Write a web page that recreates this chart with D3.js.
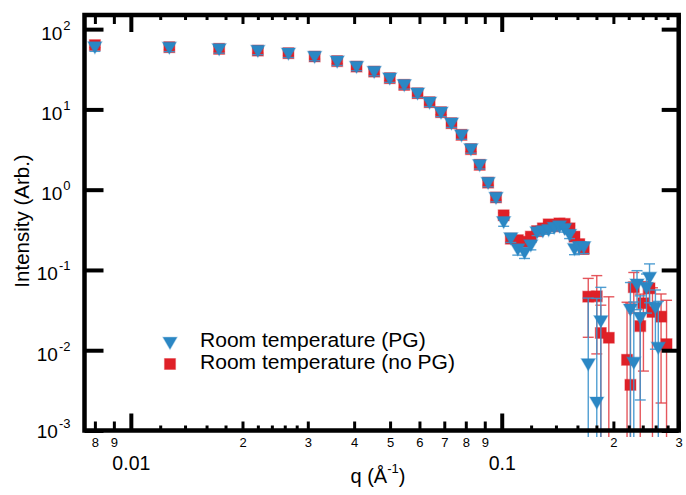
<!DOCTYPE html>
<html>
<head>
<meta charset="utf-8">
<script src="https://cdn.jsdelivr.net/npm/d3@7"></script>
<style>
  html, body { margin: 0; padding: 0; background: #fff; }
  svg { display: block; font-family: "Liberation Sans", Arial, Helvetica, sans-serif; }
</style>
</head>
<body>
<svg id="chart" width="686" height="495"></svg>
<script>
// Scattering vector q (1/Å), shared by both series
const q = [0.0080, 0.0127, 0.0173, 0.0220, 0.0266, 0.0313, 0.0360, 0.0406, 0.0453, 0.0499,
           0.0546, 0.0593, 0.0639, 0.0686, 0.0732, 0.0779, 0.0826, 0.0872, 0.0919, 0.0965,
           0.1012, 0.1058, 0.1105, 0.1152, 0.1198, 0.1245, 0.1291, 0.1338, 0.1385, 0.1431,
           0.1478, 0.1524, 0.1571, 0.1618, 0.1664, 0.1711, 0.1757, 0.1804, 0.1850, 0.1897,
           0.1944, 0.1990, 0.2037, 0.2083, 0.2130, 0.2177, 0.2223, 0.2270, 0.2316, 0.2363,
           0.2410, 0.2456, 0.2503, 0.2549, 0.2596, 0.2643, 0.2689, 0.2736, 0.2782];

// Room temperature, no PG (null = not positive, not shown on log axis)
const iNoPG = [63.2, 59.6, 56.8, 54.1, 50.2, 45.6, 40.0, 34.2, 29.6, 24.5,
               20.2, 15.9, 12.3, 9.24, 6.74, 4.82, 3.20, 2.04, 1.225, 0.80,
               0.48, 0.245, 0.235, 0.225, 0.26, 0.305, 0.33, 0.37, 0.35, 0.38,
               0.375, 0.33, 0.26, 0.21, 0.185,
               0.0465, null, 0.047, 0.0164, null, 0.0143, null, null, null, null,
               0.0076, 0.0037, 0.061, null, 0.020, 0.0385, null, 0.059, 0.030, null,
               null, 0.0262, null, 0.0119];
const eNoPG = [4.4, 4.2, 4.0, 3.8, 3.5, 3.2, 2.8, 2.4, 2.1, 1.7,
               1.4, 1.1, 0.86, 0.65, 0.47, 0.34, 0.22, 0.14, 0.086, 0.056,
               0.035, 0.022, 0.022, 0.022, 0.022, 0.025, 0.025, 0.028, 0.028, 0.028,
               0.028, 0.025, 0.025, 0.025, 0.028,
               0.032, null, 0.038, 0.020, null, 0.032, null, null, null, null,
               0.032, 0.035, 0.032, null, 0.030, 0.033, null, 0.030, 0.030, null,
               null, 0.024, null, 0.030];

// Room temperature, PG
const iPG = [58.5, 58.0, 55.5, 53.0, 49.0, 44.5, 39.0, 33.5, 29.0, 24.0,
             19.8, 15.6, 12.0, 9.0, 6.6, 4.7, 3.15, 2.0, 1.2, 0.78,
             0.39, 0.245, 0.178, 0.162, 0.20, 0.29, 0.30, 0.31, 0.33, 0.345,
             0.32, 0.27, 0.18, 0.19, 0.19,
             0.0066, null, 0.0022, 0.0227, null, null, null, null, null, null,
             null, 0.0317, 0.0069, 0.065, 0.025, null, 0.059, 0.079, null, 0.0333,
             0.0106, null, null, null];
const ePG = [5.6, 5.5, 5.3, 5.0, 4.7, 4.2, 3.7, 3.2, 2.8, 2.3,
             1.9, 1.5, 1.15, 0.86, 0.63, 0.45, 0.30, 0.19, 0.115, 0.075,
             0.04, 0.025, 0.025, 0.023, 0.022, 0.022, 0.022, 0.024, 0.024, 0.024,
             0.024, 0.024, 0.025, 0.03, 0.03,
             0.038, null, 0.042, 0.038, null, null, null, null, null, null,
             null, 0.038, 0.033, 0.033, 0.0226, null, 0.03, 0.04, null, 0.023,
             0.03, null, null, null];

// Axis ticks
const xMajorTicks = [0.01, 0.1];
const xMajorLabels = ["0.01", "0.1"];
const xMinorTicks = [0.008, 0.009, 0.02, 0.03, 0.04, 0.05, 0.06, 0.07, 0.08, 0.09, 0.2, 0.3];
const xMinorLabels = ["8", "9", "2", "3", "4", "5", "6", "7", "8", "9", "2", "3"];
const xSmallTicks = [0.012, 0.014, 0.016, 0.018, 0.022, 0.024, 0.026, 0.028,
                     0.12, 0.14, 0.16, 0.18, 0.22, 0.24, 0.26, 0.28];
const yTicks = [1e-3, 1e-2, 1e-1, 1e0, 1e1, 1e2];
const yExponents = ["-3", "-2", "-1", "0", "1", "2"];

const series = [
  { name: "Room temperature (no PG)", values: iNoPG, errors: eNoPG, color: "#df2027", bar: "#e2454b", shape: "square" },
  { name: "Room temperature (PG)", values: iPG, errors: ePG, color: "#2b87c4", bar: "#3d94cd", shape: "triangle" }
];

const frame = { left: 84.5, right: 678.7, top: 15, bottom: 430.5 };
const barFloor = 437;

const x = d3.scaleLog().domain([0.0075, 0.3]).range([frame.left, frame.right]);
const y = d3.scaleLog().domain([0.001, 150]).range([frame.bottom, frame.top]);

const svg = d3.select("#chart");

const markerPath = {
  square: "M-5.5,-5.5H5.5V5.5H-5.5Z",
  triangle: "M-7,-6L7,-6L0,6Z"
};

// Data: error bars then markers, PG drawn last (on top)
series.forEach(s => {
  const pts = q.map((qq, i) => ({ q: qq, v: s.values[i], e: s.errors[i] }))
               .filter(d => d.v != null);
  const g = svg.append("g");
  const eb = g.append("g").attr("stroke", s.bar).attr("stroke-width", 1.4).attr("stroke-opacity", 0.9);
  pts.forEach(d => {
    const cx = x(d.q);
    const top = Math.max(frame.top, y(d.v + d.e));
    const lowVal = d.v - d.e;
    const bot = lowVal > 0 ? Math.min(barFloor, y(lowVal)) : barFloor;
    eb.append("line").attr("x1", cx).attr("x2", cx).attr("y1", top).attr("y2", bot);
    if (top > frame.top) {
      eb.append("line").attr("x1", cx - 5.5).attr("x2", cx + 5.5).attr("y1", top).attr("y2", top);
    }
    if (lowVal > 0 && bot < frame.bottom) {
      eb.append("line").attr("x1", cx - 5.5).attr("x2", cx + 5.5).attr("y1", bot).attr("y2", bot);
    }
  });
  g.append("g").selectAll("path").data(pts).join("path")
    .attr("d", markerPath[s.shape])
    .attr("transform", d => `translate(${x(d.q)},${y(d.v)})`)
    .attr("fill", s.color)
    .attr("stroke", s.color)
    .attr("stroke-opacity", 0.35)
    .attr("stroke-width", 1.2);
});

// Axes
function styleAxis(g, width) {
  g.select(".domain").remove();
  g.attr("font-family", null).attr("font-size", null);
  g.selectAll(".tick line").attr("stroke", "#000").attr("stroke-width", width);
  g.selectAll(".tick text").attr("fill", "#000");
}

// bottom
svg.append("g").attr("transform", `translate(0,${frame.bottom})`)
  .call(d3.axisBottom(x).tickValues(xSmallTicks).tickSizeInner(-5).tickSizeOuter(0).tickFormat(""))
  .call(g => styleAxis(g, 3));
svg.append("g").attr("transform", `translate(0,${frame.bottom})`)
  .call(d3.axisBottom(x).tickValues(xMinorTicks).tickSizeInner(-9).tickSizeOuter(0).tickPadding(7)
        .tickFormat((d, i) => xMinorLabels[i]))
  .call(g => styleAxis(g, 3))
  .call(g => g.selectAll(".tick text").attr("font-size", 13));
svg.append("g").attr("transform", `translate(0,${frame.bottom})`)
  .call(d3.axisBottom(x).tickValues(xMajorTicks).tickSizeInner(-17).tickSizeOuter(0).tickPadding(26)
        .tickFormat((d, i) => xMajorLabels[i]))
  .call(g => styleAxis(g, 4))
  .call(g => g.selectAll(".tick text").attr("font-size", 19.5));

// top (mirror ticks, no labels)
[[xSmallTicks, 5, 3], [xMinorTicks, 9, 3], [xMajorTicks, 17, 4]].forEach(([vals, len, w]) => {
  svg.append("g").attr("transform", `translate(0,${frame.top})`)
    .call(d3.axisTop(x).tickValues(vals).tickSizeInner(-len).tickSizeOuter(0).tickFormat(""))
    .call(g => styleAxis(g, w));
});

// left
svg.append("g").attr("transform", `translate(${frame.left},0)`)
  .call(d3.axisLeft(y).tickValues(yTicks).tickSizeInner(-19).tickSizeOuter(0).tickPadding(14)
        .tickFormat(() => ""))
  .call(g => styleAxis(g, 4))
  .call(g => g.selectAll(".tick text").each(function (d, i) {
    const t = d3.select(this);
    const ty = y(d);
    const base = Math.min(10, barFloor - ty);
    t.attr("dy", null).attr("y", base).attr("font-size", 19);
    t.append("tspan").text("10");
    t.append("tspan").attr("dy", -10).attr("dx", 1).attr("font-size", 13).text(yExponents[i]);
  }));

// right (mirror ticks)
svg.append("g").attr("transform", `translate(${frame.right},0)`)
  .call(d3.axisRight(y).tickValues(yTicks).tickSizeInner(-17).tickSizeOuter(0).tickFormat(""))
  .call(g => styleAxis(g, 4));

// Frame
svg.append("rect")
  .attr("x", frame.left).attr("y", frame.top)
  .attr("width", frame.right - frame.left).attr("height", frame.bottom - frame.top)
  .attr("fill", "none").attr("stroke", "#000").attr("stroke-width", 4.5);

// Axis titles
const xTitle = svg.append("text").attr("x", 378).attr("y", 483)
  .attr("text-anchor", "middle").attr("font-size", 20).attr("fill", "#000");
xTitle.append("tspan").text("q (Å");
xTitle.append("tspan").attr("dy", -10).attr("font-size", 13).text("-1");
xTitle.append("tspan").attr("dy", 10).text(")");

svg.append("text")
  .attr("transform", "translate(29,221) rotate(-90)")
  .attr("text-anchor", "middle").attr("font-size", 20.5).attr("fill", "#000")
  .text("Intensity (Arb.)");

// Legend (text slightly widened to the figure's letter proportions)
const legend = [
  { label: "Room temperature (PG)", s: series[1], cy: 343.3, ty: 346.6 },
  { label: "Room temperature (no PG)", s: series[0], cy: 364, ty: 368.6 }
];
const lg = svg.append("g");
legend.forEach(l => {
  lg.append("path").attr("d", markerPath[l.s.shape])
    .attr("transform", `translate(170,${l.cy})`)
    .attr("fill", l.s.color).attr("stroke", l.s.color)
    .attr("stroke-opacity", 0.35).attr("stroke-width", 1.2);
  lg.append("text").attr("transform", `translate(200,${l.ty}) scale(1.08,1)`)
    .attr("font-size", 19.5).attr("fill", "#000")
    .text(l.label);
});
</script>
</body>
</html>
